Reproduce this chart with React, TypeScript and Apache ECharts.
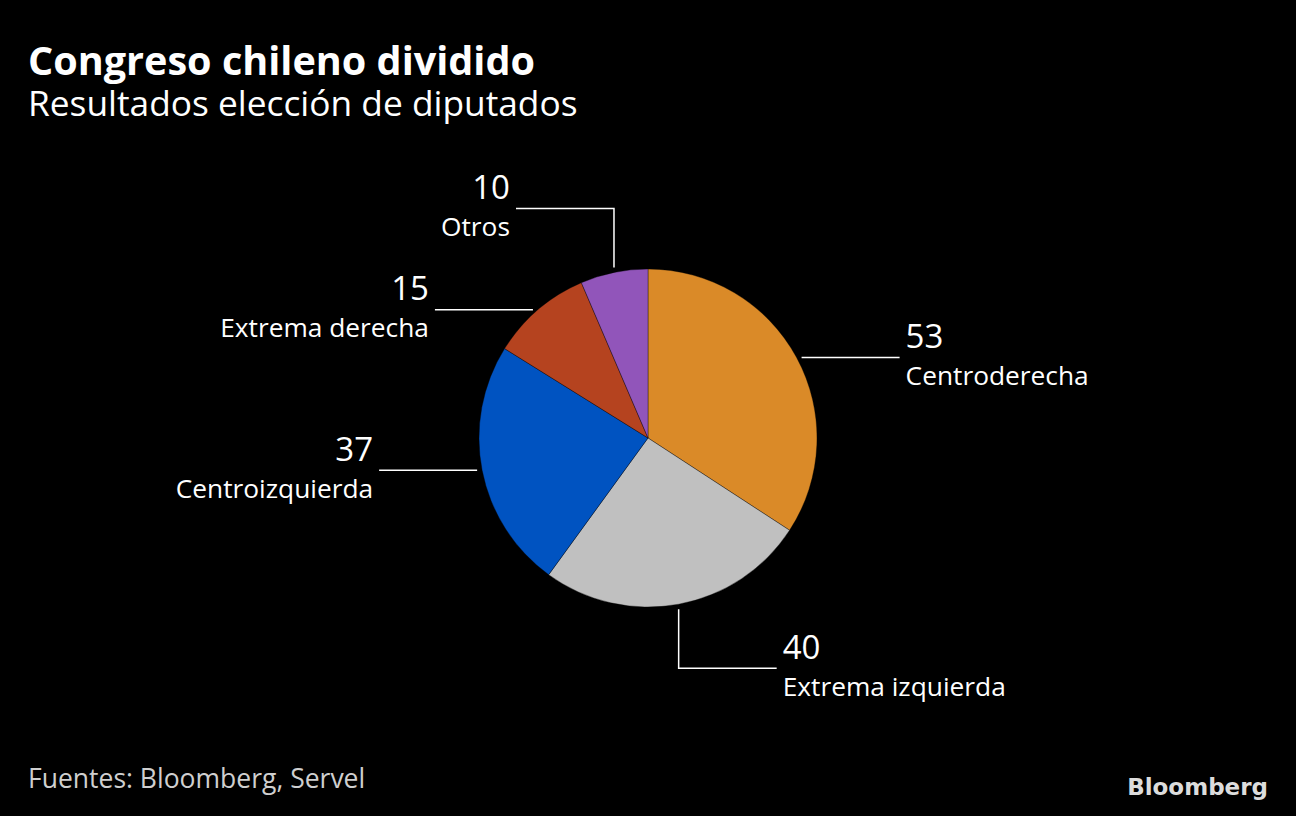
import React, { useEffect, useRef } from 'react';
import * as echarts from 'echarts';

const categories = ['Centroderecha', 'Extrema izquierda', 'Centroizquierda', 'Extrema derecha', 'Otros'];
const seats = [53, 40, 37, 15, 10];
const colors = ['#DA8A28', '#C0C0C0', '#0053C1', '#B5431F', '#9155BA'];

const titleText = 'Congreso chileno dividido';
const subtitleText = 'Resultados elección de diputados';
const sourceText = 'Fuentes: Bloomberg, Servel';
const logoText = 'Bloomberg';

// leader-line style for each slice: 'h' = horizontal, 'v' = vertical then horizontal
const guides = [
  { kind: 'h', side: 1, vdir: 0 },
  { kind: 'v', side: 1, vdir: 1 },
  { kind: 'h', side: -1, vdir: 0 },
  { kind: 'h', side: -1, vdir: 0 },
  { kind: 'v', side: -1, vdir: -1 },
];

const FONT = "'Open Sans', 'Noto Sans', sans-serif";
const GAP = 5;
const HLEN = 98;
const VLEN = 64;
const NUM_LH = 44;
const CENTER: [number, number] = [648, 438];
const RADIUS = 169;

export default function App() {
  const ref = useRef<HTMLDivElement>(null);
  useEffect(() => {
    if (!ref.current) return;
    const chart = echarts.init(ref.current, undefined, { renderer: 'svg' });
    const total = seats.reduce((a, b) => a + b, 0);

    const data = categories.map((name, i) => {
      const align = guides[i].side > 0 ? 'left' : 'right';
      return {
        name,
        value: seats[i],
        itemStyle: { color: colors[i] },
        label: {
          rich: {
            v: { fontSize: 33, color: '#ffffff', fontFamily: FONT, lineHeight: NUM_LH, align },
            n: { fontSize: 26.3, color: '#ffffff', fontFamily: FONT, lineHeight: 35, align },
          },
        },
      };
    });

    const edgePoint = (i: number): [number, number] => {
      let cum = 0;
      for (let k = 0; k < i; k++) cum += seats[k];
      const mid = ((cum + seats[i] / 2) / total) * Math.PI * 2;
      return [CENTER[0] + RADIUS * Math.sin(mid), CENTER[1] - RADIUS * Math.cos(mid)];
    };

    chart.setOption({
      animation: false,
      backgroundColor: '#000000',
      title: [
        {
          text: `{a|${titleText}}\n{b|${subtitleText}}`,
          left: 28,
          top: 38,
          padding: 0,
          textStyle: {
            rich: {
              a: { color: '#ffffff', fontSize: 39.6, lineHeight: 44, fontWeight: 'bold', fontFamily: FONT },
              b: { color: '#ffffff', fontSize: 35.3, lineHeight: 40, fontWeight: 'normal', fontFamily: FONT },
            },
          },
        },
        {
          text: sourceText,
          left: 28,
          top: 764,
          padding: 0,
          textStyle: { color: '#cfcfcf', fontSize: 26.5, lineHeight: 27, fontWeight: 'normal', fontFamily: FONT },
        },
        {
          text: logoText,
          right: 28,
          top: 775,
          padding: 0,
          textStyle: { color: '#dcdcdc', fontSize: 23, fontWeight: 'bold', fontFamily: "'DejaVu Sans', sans-serif" },
        },
      ],
      series: [
        {
          type: 'pie',
          center: CENTER,
          radius: RADIUS,
          startAngle: 90,
          clockwise: true,
          avoidLabelOverlap: false,
          itemStyle: { borderColor: 'rgba(0,0,0,0.35)', borderWidth: 1 },
          emphasis: { disabled: true },
          label: {
            show: true,
            position: 'outside',
            formatter: (p: any) => `{v|${p.value}}\n{n|${p.name}}`,
          },
          labelLine: {
            show: true,
            length: 10,
            length2: 10,
            smooth: false,
            lineStyle: { color: '#ffffff', width: 1.5 },
          },
          labelLayout: (params: any) => {
            const i = params.dataIndex;
            const g = guides[i];
            const pts = params.labelLinePoints;
            const p0: [number, number] = pts && pts[0] ? [pts[0][0], pts[0][1]] : edgePoint(i);
            let linePts: number[][];
            let endX: number;
            let endY: number;
            if (g.kind === 'h') {
              const sx = p0[0] + g.side * GAP;
              endX = sx + g.side * HLEN;
              endY = p0[1];
              linePts = [[sx, endY], [(sx + endX) / 2, endY], [endX, endY]];
            } else {
              const sy = p0[1] + g.vdir * GAP;
              endY = p0[1] + g.vdir * VLEN;
              endX = p0[0] + g.side * HLEN;
              linePts = [[p0[0], sy], [p0[0], endY], [endX, endY]];
            }
            return {
              x: endX + g.side * 6,
              y: endY - NUM_LH,
              align: g.side > 0 ? 'left' : 'right',
              verticalAlign: 'top',
              labelLinePoints: linePts,
            };
          },
          data,
        },
      ],
    });
    return () => chart.dispose();
  }, []);
  return <div ref={ref} style={{ position: 'absolute', left: 0, top: 0, width: 1296, height: 816 }} />;
}
